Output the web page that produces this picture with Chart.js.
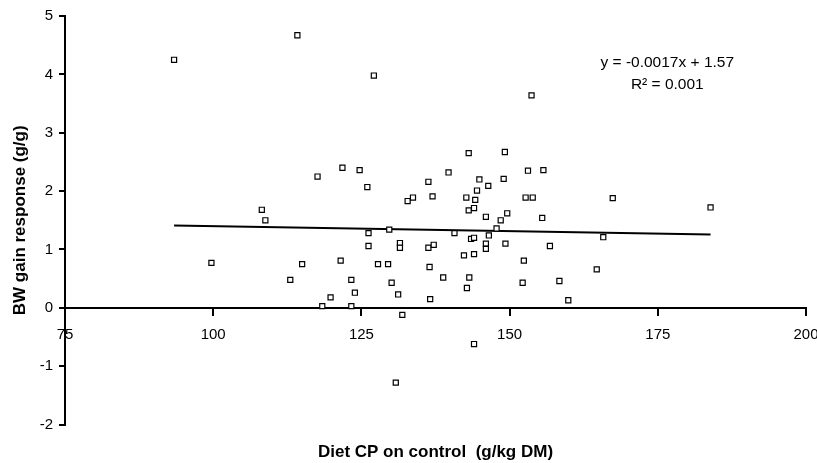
<!DOCTYPE html>
<html>
<head>
<meta charset="utf-8">
<title>BW gain response vs diet CP</title>
<script src="https://cdn.jsdelivr.net/npm/chart.js@4.4.0/dist/chart.umd.min.js"></script>
<style>
  html, body { margin: 0; padding: 0; background: #fff; }
  #wrap { width: 817px; height: 463px; }
</style>
</head>
<body>
<div id="wrap"><canvas id="cpChart"></canvas></div>
<script>
// Diet CP on control (g/kg DM) and BW gain response (g/g), one entry per study
const dietCP = [
    93.4, 114.2, 127.1, 153.7, 143.1, 149.2, 108.2, 108.8, 99.7, 117.6,
    121.8, 124.7, 126.0, 139.7, 136.3, 144.9, 146.4, 149.0, 153.1, 155.7,
    132.8, 133.7, 137.0, 142.7, 144.2, 144.5, 143.1, 144.0, 152.7, 153.9,
    146.0, 148.5, 149.6, 155.5, 167.4, 183.9, 126.2, 129.7, 140.7, 147.8,
    146.5, 143.5, 144.0, 165.8, 126.2, 131.5, 131.5, 136.3, 137.2, 146.0,
    146.0, 149.3, 156.8, 142.3, 144.0, 115.0, 121.5, 127.8, 129.5, 136.5,
    152.4, 164.7, 113.0, 123.3, 130.1, 138.8, 143.2, 152.2, 158.4, 142.8,
    123.9, 119.8, 131.2, 136.6, 159.9, 118.4, 123.3, 131.9, 130.8, 144.0
];
const bwGain = [
    4.25, 4.67, 3.98, 3.64, 2.65, 2.67, 1.68, 1.50, 0.77, 2.25,
    2.40, 2.36, 2.07, 2.32, 2.16, 2.20, 2.09, 2.21, 2.35, 2.36,
    1.83, 1.89, 1.91, 1.89, 1.85, 2.01, 1.67, 1.71, 1.89, 1.89,
    1.56, 1.50, 1.62, 1.54, 1.88, 1.72, 1.28, 1.34, 1.28, 1.36,
    1.24, 1.18, 1.20, 1.21, 1.06, 1.11, 1.03, 1.03, 1.08, 1.10,
    1.01, 1.10, 1.06, 0.90, 0.92, 0.75, 0.81, 0.75, 0.75, 0.70,
    0.81, 0.66, 0.48, 0.48, 0.43, 0.52, 0.52, 0.43, 0.46, 0.34,
    0.26, 0.18, 0.23, 0.15, 0.13, 0.03, 0.03, -0.12, -1.28, -0.62
];

// linear fit
const slope = -0.0017;
const intercept = 1.57;
const rSquared = 0.001;

const xTicks = [75, 100, 125, 150, 175, 200];
const yTicks = [-2, -1, 0, 1, 2, 3, 4, 5];

const FONT = '"Liberation Sans", Arial, sans-serif';

const points = dietCP.map((x, i) => ({x: x, y: bwGain[i]}));
const xMin = Math.min(...dietCP);
const xMax = Math.max(...dietCP);
const trend = [
    {x: xMin, y: slope * xMin + intercept},
    {x: xMax, y: slope * xMax + intercept}
];

// regression equation written in the upper right of the plot
const equationLabel = {
    id: 'equationLabel',
    afterDatasetsDraw(chart, args, opts) {
        const {ctx, scales: {x, y}} = chart;
        const cx = x.getPixelForValue(opts.x);
        ctx.save();
        ctx.font = '15.5px ' + FONT;
        ctx.fillStyle = '#000';
        ctx.textAlign = 'center';
        ctx.textBaseline = 'middle';
        ctx.fillText('y = ' + slope + 'x + ' + intercept, cx, y.getPixelForValue(opts.y1));
        ctx.fillText('R\u00B2 = ' + rSquared, cx, y.getPixelForValue(opts.y2));
        ctx.restore();
    }
};

new Chart(document.getElementById('cpChart'), {
    type: 'scatter',
    data: {
        datasets: [{
            data: points,
            pointStyle: 'rect',
            pointRadius: 3.6,
            pointHoverRadius: 3.6,
            pointBackgroundColor: '#fff',
            pointBorderColor: '#000',
            pointBorderWidth: 1.2
        }, {
            type: 'line',
            data: trend,
            borderColor: '#000',
            borderWidth: 2,
            pointRadius: 0,
            fill: false
        }]
    },
    options: {
        responsive: true,
        maintainAspectRatio: false,
        animation: false,
        layout: {padding: {top: 16, right: 0, bottom: 0, left: 0}},
        plugins: {
            legend: {display: false},
            tooltip: {enabled: false},
            title: {
                display: true,
                text: 'Diet CP on control  (g/kg DM)',
                position: 'bottom',
                fullSize: false,
                color: '#000',
                font: {family: FONT, size: 17, weight: 'bold'},
                padding: {top: 18, bottom: 0}
            },
            equationLabel: {x: 176.6, y1: 4.2, y2: 3.83}
        },
        scales: {
            x: {
                type: 'linear',
                position: {y: 0},
                min: 75,
                max: 200,
                afterBuildTicks: s => { s.ticks = xTicks.map(v => ({value: v})); },
                afterFit: s => { s.paddingRight = 11; },
                border: {display: true, color: '#000', width: 2},
                grid: {drawOnChartArea: false, drawTicks: true, tickLength: 7, color: '#000', lineWidth: 2},
                ticks: {color: '#000', font: {family: FONT, size: 15}, padding: 11, maxRotation: 0}
            },
            y: {
                type: 'linear',
                position: 'left',
                min: -2,
                max: 5,
                afterBuildTicks: s => { s.ticks = yTicks.map(v => ({value: v})); },
                afterFit: s => { s.width = 65; },
                border: {display: true, color: '#000', width: 2},
                grid: {drawOnChartArea: false, drawTicks: true, tickLength: 6, color: '#000', lineWidth: 2},
                ticks: {color: '#000', font: {family: FONT, size: 15}, padding: 6},
                title: {
                    display: true,
                    text: 'BW gain response (g/g)',
                    color: '#000',
                    font: {family: FONT, size: 17, weight: 'bold'},
                    padding: {top: 10, bottom: 0}
                }
            }
        }
    },
    plugins: [equationLabel]
});
</script>
</body>
</html>
